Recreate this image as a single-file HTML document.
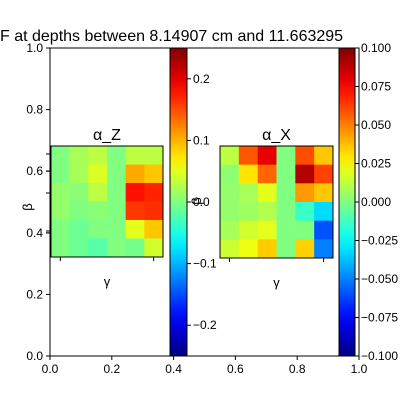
<!DOCTYPE html>
<html><head><meta charset="utf-8"><style>
html,body{margin:0;padding:0;background:#fff;}
svg{display:block;font-family:"Liberation Sans","DejaVu Sans",sans-serif;}
</style></head><body>
<svg id="c" width="400" height="400" viewBox="0 0 400 400"></svg>
<script>
const outerXTicks=["0.0","0.2","0.4","0.6","0.8","1.0"];
const outerYTicks=["0.0","0.2","0.4","0.6","0.8","1.0"];
const zValues=[
[0.0,0.02,0.03,0.0,0.03,0.03],
[0.0,0.02,0.045,0.0,0.105,0.09],
[0.01,0.005,0.03,0.0,0.18,0.17],
[0.01,0.0,0.005,0.0,0.16,0.165],
[0.0,-0.01,0.0,0.0,0.05,0.09],
[0.0,-0.01,-0.02,0.0,-0.005,0.04]];
const xValues=[
[0.012,0.058,0.08,0.0,0.06,0.036],
[0.003,0.03,0.055,0.0,0.09,0.062],
[0.004,0.008,0.02,0.0,0.045,0.036],
[0.004,0.006,0.01,0.0,-0.014,-0.032],
[0.008,0.016,0.02,0.0,0.0,-0.059],
[0.015,0.022,0.035,0.0,0.034,-0.05]];
const zRange=[-0.25,0.25];
const xRange=[-0.1,0.1];
const zCbTicks=["0.2","0.1","0.0","−0.1","−0.2"];
const zCbTickVals=[0.2,0.1,0,-0.1,-0.2];
const xCbTicks=["0.100","0.075","0.050","0.025","0.000","−0.025","−0.050","−0.075","−0.100"];
const xCbTickVals=[0.1,0.075,0.05,0.025,0,-0.025,-0.05,-0.075,-0.1];

const S=document.getElementById('c');const NS='http://www.w3.org/2000/svg';
function mk(t,a,txt){const e=document.createElementNS(NS,t);for(const k in a)e.setAttribute(k,a[k]);if(txt!==undefined)e.textContent=txt;S.appendChild(e);return e;}
function cl(v){return Math.max(0,Math.min(1,v));}
function jet(x){const r=cl(1.5-Math.abs(4*x-3)),g=cl(1.5-Math.abs(4*x-2)),b=cl(1.5-Math.abs(4*x-1));return `rgb(${Math.round(r*255)},${Math.round(g*255)},${Math.round(b*255)})`;}
const OX0=50,OX1=359,OY0=356,OY1=48;
const ox=v=>OX0+(OX1-OX0)*v, oy=v=>OY0+(OY1-OY0)*v;
let e=mk('rect',{x:OX0,y:OY1,width:OX1-OX0,height:OY0-OY1,fill:'none',stroke:'#000','stroke-width':1});

outerXTicks.forEach((t,i)=>{const v=i/5;mk('line',{x1:ox(v),x2:ox(v),y1:OY0,y2:OY0+4,stroke:'#000'});
 e=mk('text',{x:ox(v),y:OY0+17,'text-anchor':'middle','font-size':12},t);});
outerYTicks.forEach((t,i)=>{const v=i/5;mk('line',{x1:OX0-4,x2:OX0,y1:oy(v),y2:oy(v),stroke:'#000'});
 e=mk('text',{x:OX0-7,y:oy(v)+4,'text-anchor':'end','font-size':12},t);});
e=mk('text',{x:0,y:41,'font-size':16},'F at depths between 8.14907 cm and 11.663295');


function heat(vals,range,x0,y0,w,h,title,name){
 const n=vals.length,m=vals[0].length,cw=w/m,ch=h/n;
 vals.forEach((row,r)=>row.forEach((v,c)=>{const t=(v-range[0])/(range[1]-range[0]);
  const el=mk('rect',{x:x0+c*cw,y:y0+r*ch,width:cw+0.5,height:ch+0.5,fill:jet(t)});
  }));
 e=mk('rect',{x:x0,y:y0,width:w,height:h,fill:'none',stroke:'#000'});
 mk('line',{x1:x0+cw/2,x2:x0+cw/2,y1:y0+h,y2:y0+h+4,stroke:'#000'});
 mk('line',{x1:x0+w-cw/2,x2:x0+w-cw/2,y1:y0+h,y2:y0+h+4,stroke:'#000'});
 e=mk('text',{x:x0+w/2,y:y0-6,'text-anchor':'middle','font-size':16},title);
 e=mk('text',{x:x0+w/2,y:y0+h+29,'text-anchor':'middle','font-size':13},'γ');
}
function cbar(range,x0,w,ticks,vals,name){
 const g=mk('defs',{});const lg=document.createElementNS(NS,'linearGradient');lg.setAttribute('id',name+'g');lg.setAttribute('x1','0');lg.setAttribute('y1','1');lg.setAttribute('x2','0');lg.setAttribute('y2','0');
 for(let i=0;i<=20;i++){const s=document.createElementNS(NS,'stop');s.setAttribute('offset',i/20);s.setAttribute('stop-color',jet(i/20));lg.appendChild(s);}g.appendChild(lg);
 e=mk('rect',{x:x0,y:OY1,width:w,height:OY0-OY1,fill:`url(#${name}g)`,stroke:'#000'});
 const cy=v=>OY0+(OY1-OY0)*(v-range[0])/(range[1]-range[0]);
 ticks.forEach((t,i)=>{const y=cy(vals[i]);mk('line',{x1:x0+w,x2:x0+w+4,y1:y,y2:y,stroke:'#000'});
  e=mk('text',{x:x0+w+6,y:y+4,'font-size':12},t);});
}
heat(zValues,zRange,51,146,112,111,'α_Z','heatmap-alpha-z');
heat(xValues,xRange,220,146,113,112,'α_X','heatmap-alpha-x');
[154,171,193,231,233].forEach(y=>mk('line',{x1:46,x2:50,y1:y,y2:y,stroke:'#000'}));
e=mk('text',{x:32,y:207,'font-size':13,transform:'rotate(-90 32 207)','text-anchor':'middle'},'β');
e=mk('text',{x:201,y:201,'font-size':13,transform:'rotate(-90 201 201)','text-anchor':'middle'},'β');
cbar(zRange,170,17,zCbTicks,zCbTickVals,'colorbar-z');
cbar(xRange,339,16,xCbTicks,xCbTickVals,'colorbar-x');
</script>
</body></html>
